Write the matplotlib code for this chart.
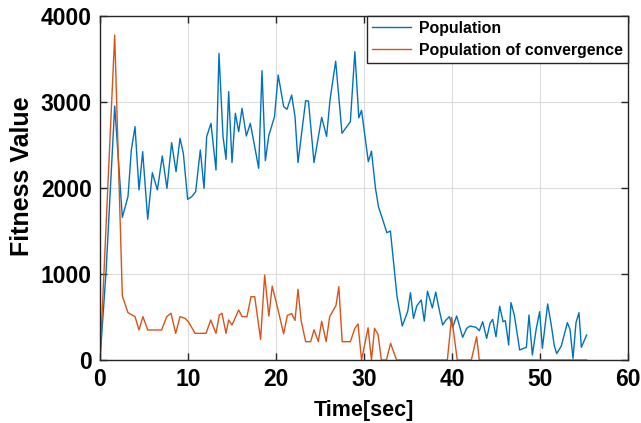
import matplotlib
matplotlib.use('Agg')
import matplotlib.pyplot as plt

# Population (blue) - time [s] and fitness values
pop_time = [0, 0.7, 1.67, 2.54, 3.18, 3.56, 3.98, 4.43, 4.85, 5.42, 5.95, 6.52,
            7.08, 7.61, 8.14, 8.64, 9.09, 9.47, 9.96, 10.42, 10.87, 11.40, 11.82,
            12.12, 12.61, 13.18, 13.52, 13.98, 14.32, 14.62, 15.00, 15.38, 15.76,
            16.14, 16.63, 17.08, 17.58, 18.03, 18.41, 18.79, 19.17, 19.83, 20.25,
            20.87, 21.25, 21.78, 22.16, 22.50, 23.37, 23.69, 24.32, 25.19, 25.75,
            26.14, 26.78, 27.50, 28.45, 28.96, 29.41, 29.72, 30.49, 30.85, 31.30,
            31.65, 32.10, 32.60, 33.00, 33.75, 34.35, 34.97, 35.28, 35.62, 36.00,
            36.50, 36.85, 37.21, 37.77, 38.15, 38.60, 38.94, 39.32, 39.70, 40.08,
            40.53, 41.21, 41.67, 42.05, 42.73, 43.11, 43.48, 43.94, 44.32, 44.62,
            45.00, 45.42, 45.80, 46.06, 46.44, 46.70, 47.08, 47.69, 48.14, 48.45,
            48.75, 49.13, 49.58, 49.96, 50.27, 50.87, 51.25, 51.63, 51.90, 52.42,
            53.11, 53.41, 53.75, 54.09, 54.43, 54.70, 55.30]
pop_value = [0, 1050, 2953, 1659, 1899, 2442, 2713, 1977, 2422, 1636, 2178, 1977,
             2372, 1996, 2527, 2190, 2578, 2403, 1868, 1899, 1957, 2442, 1996,
             2597, 2752, 2209, 3566, 2597, 2333, 3120, 2295, 2868, 2655,
             2926, 2605, 2752, 2481, 2229, 3364, 2318, 2605, 2829, 3314,
             2946, 2915, 3081, 2829, 2295, 3016, 3010, 2295, 2822, 2600,
             3027, 3475, 2636, 2771, 3585, 2816, 2903, 2306, 2428, 2000,
             1780, 1640, 1480, 1500, 740, 395, 567, 783, 484, 630,
             698, 452, 800, 605, 790, 560, 407, 465, 504, 380,
             512, 264, 368, 395, 380, 341, 446, 252, 426, 473,
             270, 625, 446, 457, 174, 667, 523, 116, 136, 147,
             523, 58, 368, 562, 136, 651, 426, 163, 75, 163,
             434, 357, 19, 434, 550, 147, 291]

# Population of convergence (orange)
conv_time = [0, 1.67, 2.54, 3.18, 3.98, 4.43, 4.88, 5.42, 7.00, 7.58, 8.07, 8.60,
             9.09, 9.66, 10.04, 10.80, 12.05, 12.58, 13.18, 13.56, 13.86, 14.32,
             14.62, 15.00, 15.76, 16.14, 16.70, 17.16, 17.58, 18.25, 18.71, 19.19,
             19.57, 20.10, 20.87, 21.29, 21.78, 22.16, 22.50, 22.86, 23.37, 23.94,
             24.32, 24.81, 25.19, 25.70, 26.10, 26.82, 27.14, 27.52, 28.45, 28.96,
             29.32, 29.72, 30.46, 30.85, 31.20, 31.60, 31.97, 32.55, 33.02, 33.70,
             39.47, 39.96, 40.60, 42.20, 42.80, 43.10, 55.30]
conv_value = [0, 3779, 744, 550, 504, 349, 504, 349, 349, 504, 543, 310,
              504, 484, 446, 310, 310, 465, 310, 523, 543, 310,
              465, 407, 581, 504, 504, 736, 736, 240, 988, 510,
              860, 640, 305, 518, 540, 460, 822, 455, 213, 213,
              352, 213, 450, 213, 504, 635, 853, 213, 213, 368,
              419, 0, 374, 0, 368, 296, 0, 0, 194, 0,
              0, 496, 0, 0, 271, 0, 0]

plt.rcParams['font.family'] = ['Liberation Sans', 'DejaVu Sans']
plt.rcParams['font.weight'] = 'bold'

fig = plt.figure(figsize=(6.41, 4.23), dpi=100)
ax = fig.add_axes([100 / 641, 63 / 423, 528 / 641, 344 / 423])

ax.plot(pop_time, pop_value, color='#0072BD', lw=1.0, label='Population')
ax.plot(conv_time, conv_value, color='#D95319', lw=1.0, label='Population of convergence')

ax.set_xlim(0, 60)
ax.set_ylim(0, 4000)
ax.set_xticks(range(0, 61, 10))
ax.set_yticks(range(0, 4001, 1000))
ax.grid(True, color='#dcdcdc', lw=0.8)
ax.set_axisbelow(True)

# MATLAB-like box with inward ticks on all sides
for s in ax.spines.values():
    s.set_color('#262626')
    s.set_linewidth(1.0)
ax.tick_params(direction='in', top=True, right=True, length=5, width=1,
               color='#262626', labelsize=16.5, pad=6)
for lbl in ax.get_xticklabels() + ax.get_yticklabels():
    lbl.set_fontweight('bold')

ax.set_xlabel('Time[sec]', fontsize=15.5, fontweight='bold', labelpad=6)
ax.set_ylabel('Fitness Value', fontsize=18, fontweight='bold')
ax.yaxis.set_label_coords(-0.125, 0.535)

leg = ax.legend(loc='upper right', bbox_to_anchor=(1, 1), borderaxespad=0,
                fancybox=False, framealpha=1, edgecolor='#262626',
                prop={'size': 11.4, 'weight': 'bold'}, handlelength=2.5,
                handletextpad=0.5, labelspacing=0.45, borderpad=0.3)
leg.get_frame().set_linewidth(1.0)

fig.savefig('out.png', dpi=100)
